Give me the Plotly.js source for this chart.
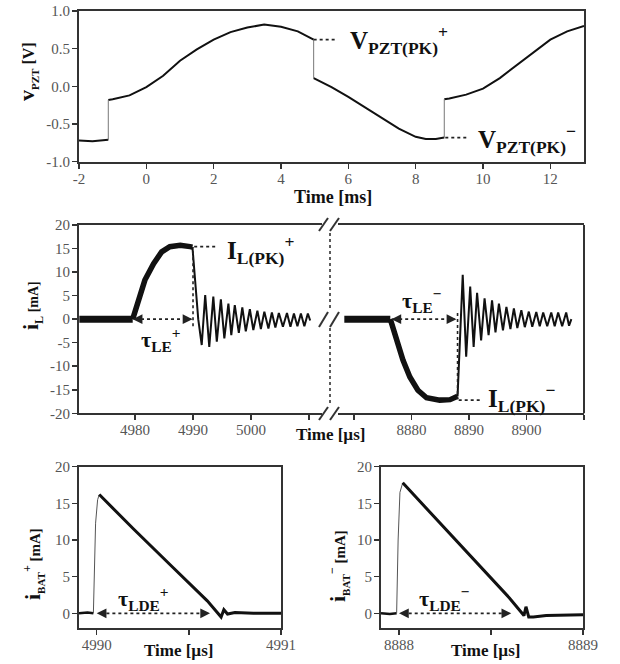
<!DOCTYPE html>
<html>
<head>
<meta charset="utf-8">
<script src="https://cdn.plot.ly/plotly-3.0.1.min.js"></script>
<style>html,body{margin:0;padding:0;background:#fff;}#chart{width:620px;height:664px;}</style>
</head>
<body>
<div id="chart"></div>
<script>
// ---------- DATA ----------
// Top panel: v_PZT [V] vs time [ms], four segments separated by switching jumps
const vT1 = [-2.0, -1.6, -1.13];
const vV1 = [-0.72, -0.73, -0.71];
const vT2 = [-1.13, -1.0, -0.5, 0.0, 0.5, 1.0, 1.5, 2.0, 2.5, 3.0, 3.5, 4.0, 4.5, 4.84, 4.97];
const vV2 = [-0.18, -0.17, -0.12, -0.01, 0.14, 0.34, 0.49, 0.62, 0.72, 0.78, 0.82, 0.79, 0.73, 0.65, 0.62];
const vT3 = [4.97, 5.5, 6.0, 6.5, 7.0, 7.5, 8.0, 8.3, 8.6, 8.85];
const vV3 = [0.11, -0.01, -0.14, -0.28, -0.42, -0.56, -0.67, -0.70, -0.70, -0.68];
const vT4 = [8.85, 9.0, 9.5, 10.0, 10.5, 11.0, 11.5, 12.0, 12.5, 13.0];
const vV4 = [-0.17, -0.16, -0.11, -0.03, 0.11, 0.28, 0.45, 0.62, 0.73, 0.80];
const tTicks = [-2, 0, 2, 4, 6, 8, 10, 12];
const tTickText = ['-2', '0', '2', '4', '6', '8', '10', '12'];
const vTicks = [1.0, 0.5, 0.0, -0.5, -1.0];
const vTickText = ['1.0', '0.5', '0.0', '-0.5', '-1.0'];

// Middle panel, left part: i_L [mA] vs time [µs] (positive event)
const iLposFlatT = [4970.4, 4979.6];
const iLposFlat = [0, 0];
const iLposRiseT = [4979.6, 4980.6, 4981.7, 4983.2, 4984.6, 4986.0, 4987.8, 4989.5, 4989.9];
const iLposRise = [0, 4.0, 8.3, 11.8, 14.3, 15.4, 15.7, 15.4, 15.3];
const iLposRingT = [4989.9, 4990.4, 4990.9, 4991.5, 4992.1, 4992.8, 4993.5, 4994.1, 4994.8, 4995.4, 4996.1, 4996.6,
  4997.2, 4997.9, 4998.5, 4999.1, 4999.8, 5000.4, 5001.1, 5001.7, 5002.3, 5003.0, 5003.6, 5004.2,
  5004.8, 5005.5, 5006.2, 5006.8, 5007.4, 5008.0, 5008.6, 5009.2, 5009.8, 5010.2];
const iLposRing = [15.3, 8.0, 0, -5.5, 5.1, -5.9, 4.8, -4.8, 4.2, -4.1, 3.3, -3.4,
  3.0, -2.9, 2.5, -2.6, 2.1, -2.3, 1.8, -2.1, 1.6, -2.0, 1.4, -1.8,
  1.3, -1.6, 1.3, -1.6, 1.2, -1.5, 1.2, -1.5, 1.2, -0.3];
// Middle panel, right part (negative event)
const iLnegFlatT = [8868.3, 8876.3];
const iLnegFlat = [0, 0];
const iLnegFallT = [8876.3, 8877.4, 8878.5, 8879.7, 8881.1, 8882.6, 8884.9, 8886.7, 8887.8, 8888.0];
const iLnegFall = [0, -4.5, -8.7, -12.3, -15.1, -16.7, -17.2, -17.1, -16.5, -16.4];
const iLnegRingT = [8888.0, 8888.9, 8889.5, 8890.2, 8890.8, 8891.4, 8892.1, 8892.7, 8893.4, 8894.0, 8894.6, 8895.2,
  8895.9, 8896.5, 8897.2, 8897.8, 8898.4, 8899.1, 8899.7, 8900.4, 8901.0, 8901.7, 8902.3, 8902.9,
  8903.6, 8904.3, 8904.9, 8905.5, 8906.2, 8906.9, 8907.4, 8907.8];
const iLnegRing = [-16.4, 9.4, -8.0, 6.9, -5.9, 5.6, -4.5, 4.4, -3.4, 4.0, -2.8, 3.3,
  -2.4, 2.6, -2.1, 2.3, -1.9, 1.9, -1.7, 1.6, -1.6, 1.5, -1.5, 1.4,
  -1.5, 1.4, -1.5, 1.4, -1.5, 1.4, -1.4, 0];
const iLTicks = [20, 15, 10, 5, 0, -5, -10, -15, -20];
const iLTickText = ['20', '15', '10', '5', '0', '-5', '-10', '-15', '-20'];
const tPosTicks = [4980, 4990, 5000, 5010];
const tPosTickText = ['4980', '4990', '5000', ''];
const tNegTicks = [8870, 8880, 8890, 8900, 8910];
const tNegTickText = ['', '8880', '8890', '8900', ''];

// Bottom left: i_BAT+ [mA] vs time [µs]
const ibpBaseT = [4989.904, 4989.95, 4989.982];
const ibpBase = [0, 0.1, 0];
const ibpRiseT = [4989.982, 4989.994, 4990.005, 4990.014];
const ibpRise = [0, 12.3, 15.5, 16.2];
const ibpFallT = [4990.014, 4990.2, 4990.4, 4990.6, 4990.675, 4990.69, 4990.71, 4990.75, 4990.85, 4991.0];
const ibpFall = [16.2, 11.5, 6.6, 1.7, -0.5, 0.5, -0.1, 0.1, 0, 0];
// Bottom right: i_BAT- [mA] vs time [µs]
const ibnBaseT = [8887.902, 8887.95, 8887.987];
const ibnBase = [0, -0.1, 0];
const ibnRiseT = [8887.987, 8887.995, 8888.005, 8888.02];
const ibnRise = [0, 10.0, 16.5, 17.8];
const ibnFallT = [8888.02, 8888.2, 8888.4, 8888.6, 8888.679, 8888.69, 8888.705, 8888.73, 8888.8, 8889.0];
const ibnFall = [17.8, 12.9, 7.5, 2.1, -0.3, 0.9, -0.5, -0.5, -0.3, -0.2];
const ibTicks = [0, 5, 10, 15, 20];
const ibTickText = ['0', '5', '10', '15', '20'];
const tbpTicks = [4990, 4990.5, 4991];
const tbpTickText = ['4990', '', '4991'];
const tbnTicks = [8888, 8888.5, 8889];
const tbnTickText = ['8888', '', '8889'];

// ---------- DRAWING ----------
const W = 620, H = 664;
const FONT = 'Liberation Serif, Times New Roman, serif';
const px = v => v / W;
const py = v => 1 - v / H;

function tr(x, y, xa, ya, w, c) {
  return {x: x, y: y, xaxis: xa, yaxis: ya, type: 'scatter', mode: 'lines',
    line: {color: c || '#111', width: w}, hoverinfo: 'skip', showlegend: false};
}
function jump(xa, ya, x0, y0, x1, y1) {
  return tr([x0, x1], [y0, y1], xa, ya, 1, '#777');
}

const traces = [
  tr(vT1, vV1, 'x', 'y', 2), tr(vT2, vV2, 'x', 'y', 2), tr(vT3, vV3, 'x', 'y', 2), tr(vT4, vV4, 'x', 'y', 2),
  jump('x', 'y', vT1[vT1.length - 1], vV1[vV1.length - 1], vT2[0], vV2[0]),
  jump('x', 'y', vT2[vT2.length - 1], vV2[vV2.length - 1], vT3[0], vV3[0]),
  jump('x', 'y', vT3[vT3.length - 1], vV3[vV3.length - 1], vT4[0], vV4[0]),
  tr(iLposFlatT, iLposFlat, 'x2', 'y2', 7), tr(iLposRiseT, iLposRise, 'x2', 'y2', 5.5),
  tr(iLposRingT, iLposRing, 'x2', 'y2', 2),
  tr(iLnegFlatT, iLnegFlat, 'x3', 'y2', 7), tr(iLnegFallT, iLnegFall, 'x3', 'y2', 5.5),
  tr(iLnegRingT, iLnegRing, 'x3', 'y2', 2),
  tr(ibpBaseT, ibpBase, 'x4', 'y3', 2.5), tr(ibpRiseT, ibpRise, 'x4', 'y3', 1, '#555'), tr(ibpFallT, ibpFall, 'x4', 'y3', 3),
  tr(ibnBaseT, ibnBase, 'x5', 'y4', 2.5), tr(ibnRiseT, ibnRise, 'x5', 'y4', 1, '#555'), tr(ibnFallT, ibnFall, 'x5', 'y4', 3)
];

const base = {showgrid: false, zeroline: false, showline: true, linecolor: '#333', linewidth: 2,
  ticks: 'outside', ticklen: 5, tickwidth: 1.5, tickcolor: '#333',
  tickfont: {family: FONT, size: 15, color: '#555'}, fixedrange: true, mirror: true};
const bx = Object.assign({}, base, {ticklabelstandoff: -3});
const by = Object.assign({}, base, {ticklabelstandoff: -1});

const layout = {
  width: W, height: H, autosize: false,
  margin: {l: 0, r: 0, t: 0, b: 0, pad: 0},
  paper_bgcolor: '#fff', plot_bgcolor: 'rgba(0,0,0,0)',
  showlegend: false,
  font: {family: FONT, color: '#111'},
  xaxis: Object.assign({}, bx, {domain: [px(79), px(584)], range: [-2, 13], anchor: 'y', tickvals: tTicks, ticktext: tTickText}),
  yaxis: Object.assign({}, by, {domain: [py(161.7), py(11)], range: [-1, 1], anchor: 'x', tickvals: vTicks, ticktext: vTickText}),
  xaxis2: Object.assign({}, bx, {domain: [px(79), px(322)], range: [4970.34, 5012.24], anchor: 'y2', tickvals: tPosTicks, ticktext: tPosTickText}),
  xaxis3: Object.assign({}, bx, {domain: [px(338), px(584)], range: [8867.2, 8910], anchor: 'y2', tickvals: tNegTicks, ticktext: tNegTickText}),
  yaxis2: Object.assign({}, by, {domain: [py(413.3), py(225)], range: [-20, 20], anchor: 'x2', mirror: false, tickvals: iLTicks, ticktext: iLTickText}),
  xaxis4: Object.assign({}, bx, {domain: [px(79), px(281)], range: [4989.904, 4991], anchor: 'y3', tickvals: tbpTicks, ticktext: tbpTickText}),
  yaxis3: Object.assign({}, by, {domain: [py(628), py(466.7)], range: [-2, 20], anchor: 'x4', tickvals: ibTicks, ticktext: ibTickText}),
  xaxis5: Object.assign({}, bx, {domain: [px(381), px(583)], range: [8887.902, 8889], anchor: 'y4', tickvals: tbnTicks, ticktext: tbnTickText}),
  yaxis4: Object.assign({}, by, {domain: [py(628), py(466.7)], range: [-2, 20], anchor: 'x5', tickvals: ibTicks, ticktext: ibTickText}),
  shapes: [],
  annotations: []
};

const dot = {color: '#222', width: 1.6, dash: 'dot'};
function dline(xr, yr, x0, y0, x1, y1) {
  layout.shapes.push({type: 'line', xref: xr, yref: yr, x0: x0, y0: y0, x1: x1, y1: y1, line: dot});
}
function pline(x0, y0, x1, y1, w, dash) {
  layout.shapes.push({type: 'line', xref: 'paper', yref: 'paper', x0: px(x0), y0: py(y0), x1: px(x1), y1: py(y1),
    line: {color: '#333', width: w, dash: dash || 'solid'}});
}
// top panel leaders
dline('x', 'y', 4.97, 0.62, 5.64, 0.62);
dline('x', 'y', 8.88, -0.68, 9.53, -0.68);
// middle panel leaders
dline('x2', 'y2', 4990, -1.5, 4990, 15.3);
dline('x2', 'y2', 4990.2, 15.4, 4994.2, 15.4);
dline('x2', 'y2', 4980.0, 0, 4989.7, 0);
dline('x3', 'y2', 8888, 1.3, 8888, -17.0);
dline('x3', 'y2', 8888.2, -17.2, 8892.3, -17.2);
dline('x3', 'y2', 8876.8, 0, 8887.5, 0);
// bottom panels
dline('x4', 'y3', 4990.02, 0, 4990.6, 0);
dline('x5', 'y4', 8888.02, 0, 8888.59, 0);
// axis break decorations for the middle panel
pline(584, 225, 584, 413.3, 2);
pline(330, 233, 330, 308, 1.6, 'dot');
pline(330, 328, 330, 405, 1.6, 'dot');
[[231, 218], [420, 407], [327, 312]].forEach(function (p) {
  pline(319, p[0], 328, p[1], 2);
  pline(330, p[0], 339, p[1], 2);
});

// arrowheads for the dotted double arrows
function head(xr, yr, x, y, dir) {
  layout.annotations.push({xref: xr, yref: yr, x: x, y: y, ax: 9 * dir, ay: 0, text: '', showarrow: true,
    arrowhead: 2, arrowsize: 1.3, arrowwidth: 1.5, arrowcolor: '#222'});
}
head('x2', 'y2', 4979.6, 0, 1); head('x2', 'y2', 4989.9, 0, -1);
head('x3', 'y2', 8876.5, 0, 1); head('x3', 'y2', 8887.8, 0, -1);
head('x4', 'y3', 4990.0, 0, 1); head('x4', 'y3', 4990.615, 0, -1);
head('x5', 'y4', 8888.0, 0, 1); head('x5', 'y4', 8888.61, 0, -1);

// labels
function lab(xr, yr, x, y, text, size) {
  layout.annotations.push({xref: xr, yref: yr, x: x, y: y, text: text, showarrow: false,
    xanchor: 'left', yanchor: 'middle', font: {family: FONT, size: size, color: '#111', weight: 'bold'}});
}
lab('x', 'y', 6.0, 0.62, 'V<sub>PZT(PK)</sub><sup>+</sup>', 25);
lab('x', 'y', 9.8, -0.70, 'V<sub>PZT(PK)</sub><sup>\u2212</sup>', 25);
lab('x2', 'y2', 4995.5, 14.6, 'I<sub>L(PK)</sub><sup>+</sup>', 25);
lab('x3', 'y2', 8893.0, -16.8, 'I<sub>L(PK)</sub><sup>\u2212</sup>', 25);
lab('x2', 'y2', 4980.6, -4.3, '\u03c4<sub>LE</sub><sup>+</sup>', 22);
lab('x3', 'y2', 8878.0, 3.9, '\u03c4<sub>LE</sub><sup>\u2212</sup>', 22);
lab('x4', 'y3', 4990.105, 2.0, '\u03c4<sub>LDE</sub><sup>+</sup>', 22);
lab('x5', 'y4', 8888.095, 2.0, '\u03c4<sub>LDE</sub><sup>\u2212</sup>', 22);

// axis titles
function ttl(x, y, text, size, angle) {
  layout.annotations.push({xref: 'paper', yref: 'paper', x: px(x), y: py(y), text: text, showarrow: false,
    xanchor: 'center', yanchor: 'middle', textangle: angle || 0,
    font: {family: FONT, size: size, color: '#111', weight: 'bold'}});
}
ttl(333, 197, 'Time [ms]', 18);
ttl(330, 434, 'Time [\u00b5s]', 17);
ttl(178, 650, 'Time [\u00b5s]', 17);
ttl(485, 650, 'Time [\u00b5s]', 17);
ttl(27, 72, 'v<sub><span style="font-size:11px">PZT</span></sub><span style="font-size:16px"> [V]</span>', 22, -90);
ttl(32, 306, 'i<sub><span style="font-size:12px">L</span></sub><span style="font-size:14px"> [mA]</span>', 22, -90);
ttl(33, 564, 'i<sub><span style="font-size:11px">BAT</span></sub><sup><span style="font-size:12px">+</span></sup><span style="font-size:15px"> [mA]</span>', 22, -90);
ttl(338, 566, 'i<sub><span style="font-size:11px">BAT</span></sub><sup><span style="font-size:12px">\u2212</span></sup><span style="font-size:15px"> [mA]</span>', 22, -90);

Plotly.newPlot('chart', traces, layout, {staticPlot: true, displayModeBar: false});
</script>
</body>
</html>
